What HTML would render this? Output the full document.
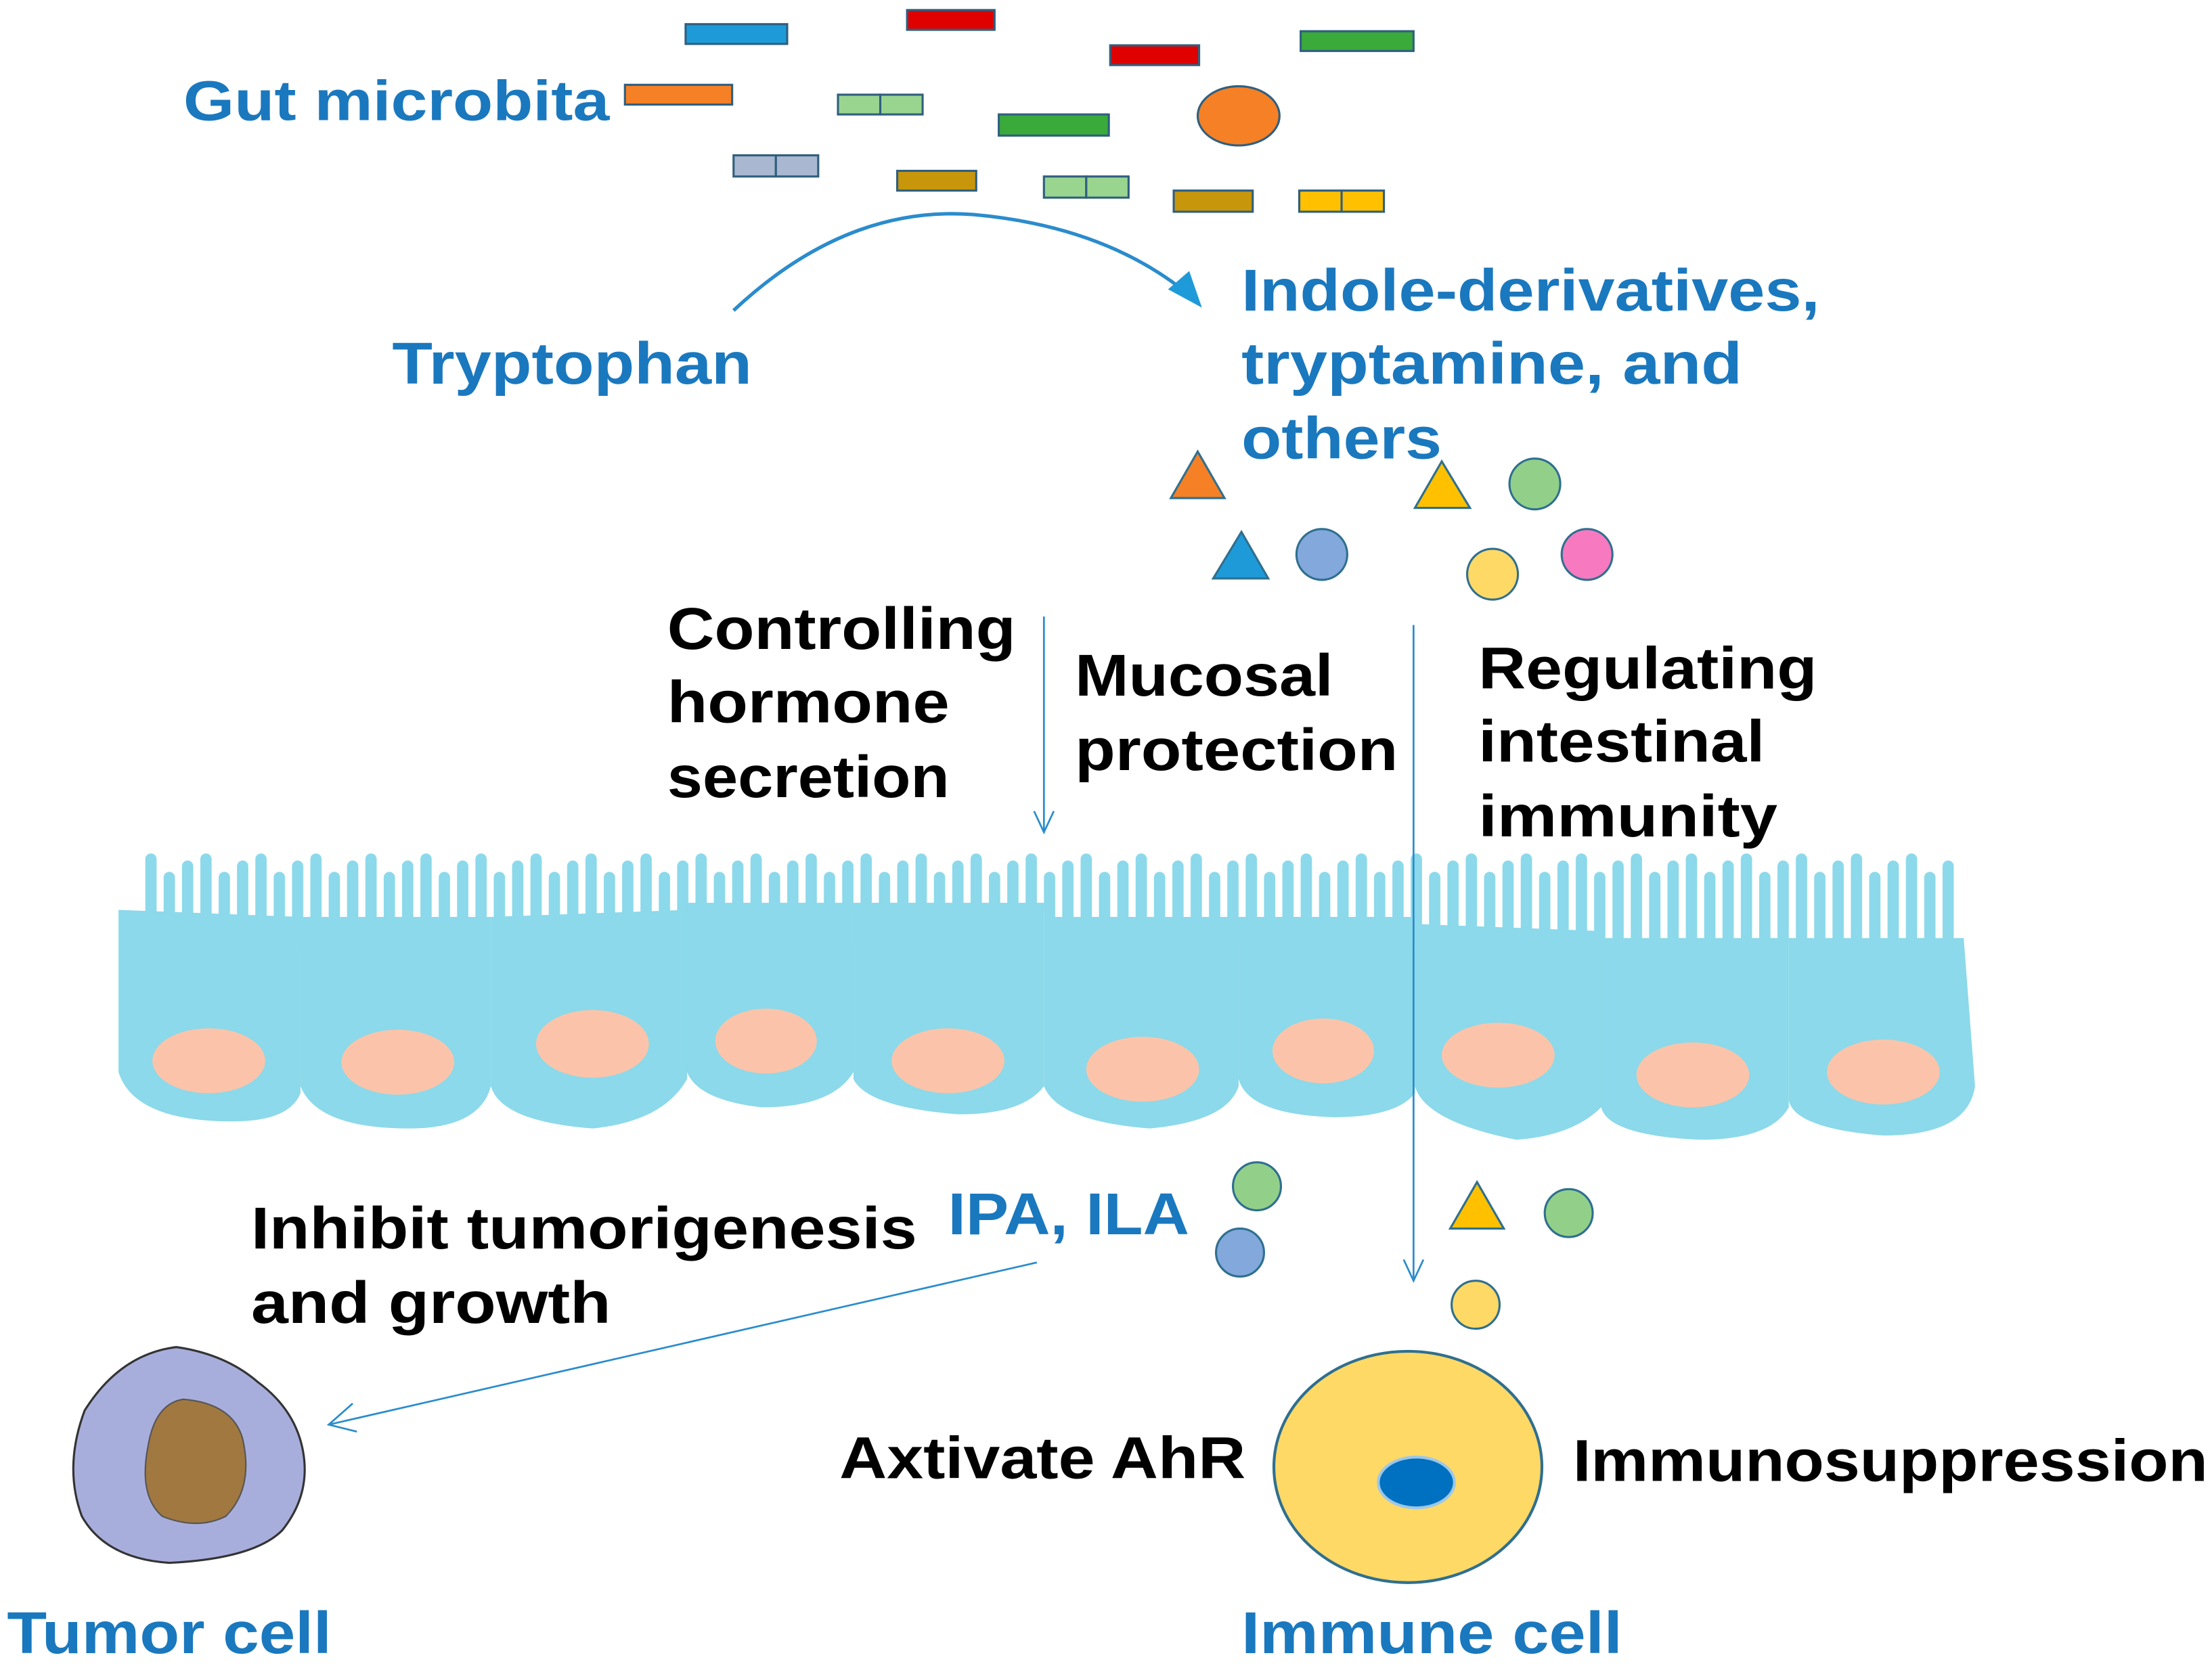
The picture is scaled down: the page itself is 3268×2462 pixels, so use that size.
<!DOCTYPE html>
<html><head><meta charset="utf-8"><style>html,body{margin:0;padding:0;background:#fff}svg{display:block}</style></head><body>
<svg width="3268" height="2462" viewBox="0 0 1568 1181" xmlns="http://www.w3.org/2000/svg" font-family="'Liberation Sans', sans-serif" font-weight="bold">
<defs>
<pattern id="mv" x="100" y="0" width="39" height="1181" patternUnits="userSpaceOnUse">
<rect x="3" y="605" width="8" height="80" rx="4" fill="#8BD9EA"/>
<rect x="16" y="618" width="8" height="70" rx="4" fill="#8BD9EA"/>
<rect x="29" y="610" width="8" height="75" rx="4" fill="#8BD9EA"/>
</pattern>
</defs>
<g stroke="#2f5f7f" stroke-width="1.5">
<rect x="486" y="17" width="72" height="14" fill="#1f9ad8"/>
<rect x="643" y="7" width="62" height="14" fill="#e00000"/>
<rect x="787" y="32" width="63" height="14" fill="#e00000"/>
<rect x="922" y="22" width="80" height="14" fill="#3aaa3a"/>
<rect x="443" y="60" width="76" height="14" fill="#f58025"/>
<rect x="594" y="67" width="30" height="14" fill="#9ad590"/><rect x="624" y="67" width="30" height="14" fill="#9ad590"/>
<rect x="708" y="81" width="78" height="15" fill="#3aaa3a"/>
<ellipse cx="878" cy="82" rx="29" ry="21" fill="#f58025"/>
<rect x="520" y="110" width="30" height="15" fill="#a9b8d0"/><rect x="550" y="110" width="30" height="15" fill="#a9b8d0"/>
<rect x="636" y="121" width="56" height="14" fill="#c8960a"/>
<rect x="740" y="125" width="30" height="15" fill="#9ad590"/><rect x="770" y="125" width="30" height="15" fill="#9ad590"/>
<rect x="832" y="135" width="56" height="15" fill="#c8960a"/>
<rect x="921" y="135" width="30" height="15" fill="#ffc000"/><rect x="951" y="135" width="30" height="15" fill="#ffc000"/>
</g>
<path d="M520,220 Q600,145 690,152 Q780,160 838,205" fill="none" stroke="#2a8ccc" stroke-width="2.5"/>
<polygon points="852,218 828,205 843,192" fill="#1f9ad8"/>
<g fill="#1a78be">
<text x="130" y="85" font-size="40" textLength="302" lengthAdjust="spacingAndGlyphs">Gut microbita</text>
<text x="278" y="272" font-size="42" textLength="255" lengthAdjust="spacingAndGlyphs">Tryptophan</text>
<text x="880" y="220" font-size="42" textLength="410" lengthAdjust="spacingAndGlyphs">Indole-derivatives,</text>
<text x="880" y="272" font-size="42" textLength="355" lengthAdjust="spacingAndGlyphs">tryptamine, and</text>
<text x="880" y="325" font-size="42" textLength="142" lengthAdjust="spacingAndGlyphs">others</text>
<text x="672" y="875" font-size="42" textLength="171" lengthAdjust="spacingAndGlyphs">IPA, ILA</text>
<text x="5" y="1172" font-size="42" textLength="230" lengthAdjust="spacingAndGlyphs">Tumor cell</text>
<text x="880" y="1172" font-size="42" textLength="270" lengthAdjust="spacingAndGlyphs">Immune cell</text>
</g>
<g stroke="#2f6f8f" stroke-width="1.5">
<polygon points="849,320 868,353 830,353" fill="#f58025"/>
<polygon points="1022,327 1042,360 1003,360" fill="#ffc000"/>
<polygon points="880,377 899,410 860,410" fill="#1f9ad8"/>
<circle cx="1088" cy="343" r="18" fill="#92d08a"/>
<circle cx="937" cy="393" r="18" fill="#82a8dc"/>
<circle cx="1058" cy="407" r="18" fill="#ffd966"/>
<circle cx="1125" cy="393" r="18" fill="#f77ac0"/>
<circle cx="891" cy="841" r="17" fill="#92d08a"/>
<circle cx="879" cy="888" r="17" fill="#82a8dc"/>
<polygon points="1047,838 1066,871 1028,871" fill="#ffc000"/>
<circle cx="1112" cy="860" r="17" fill="#92d08a"/>
<circle cx="1046" cy="925" r="17" fill="#ffd966"/>
</g>
<g fill="#000">
<text x="473" y="460" font-size="42" textLength="247" lengthAdjust="spacingAndGlyphs">Controlling</text>
<text x="473" y="512" font-size="42" textLength="200" lengthAdjust="spacingAndGlyphs">hormone</text>
<text x="473" y="565" font-size="42" textLength="200" lengthAdjust="spacingAndGlyphs">secretion</text>
<text x="762" y="493" font-size="42" textLength="183" lengthAdjust="spacingAndGlyphs">Mucosal</text>
<text x="762" y="546" font-size="42" textLength="229" lengthAdjust="spacingAndGlyphs">protection</text>
<text x="1048" y="488" font-size="42" textLength="240" lengthAdjust="spacingAndGlyphs">Regulating</text>
<text x="1048" y="540" font-size="42" textLength="203" lengthAdjust="spacingAndGlyphs">intestinal</text>
<text x="1048" y="593" font-size="42" textLength="212" lengthAdjust="spacingAndGlyphs">immunity</text>
<text x="178" y="885" font-size="42" textLength="472" lengthAdjust="spacingAndGlyphs">Inhibit tumorigenesis</text>
<text x="178" y="938" font-size="42" textLength="255" lengthAdjust="spacingAndGlyphs">and growth</text>
<text x="595" y="1048" font-size="42" textLength="288" lengthAdjust="spacingAndGlyphs">Axtivate AhR</text>
<text x="1115" y="1050" font-size="42" textLength="450" lengthAdjust="spacingAndGlyphs">Immunosuppression</text>
</g>
<!-- epithelium -->
<rect x="100" y="600" width="1285" height="70" fill="url(#mv)"/>
<g fill="#8BD9EA">
<path d="M84,645 L213,650 L213,775 Q205,795 165,795 Q95,795 84,760 Z"/>
<path d="M213,650 L348,650 L348,770 Q340,800 290,800 Q225,800 213,770 Z"/>
<path d="M348,650 L487,645 L487,765 Q470,795 420,800 Q355,795 348,770 Z"/>
<path d="M487,640 L605,640 L605,760 Q590,785 540,785 Q495,780 487,760 Z"/>
<path d="M605,640 L740,640 L740,770 Q725,790 680,790 Q615,785 605,765 Z"/>
<path d="M740,650 L878,650 L878,770 Q870,795 815,800 Q750,795 740,770 Z"/>
<path d="M878,650 L1003,650 L1003,775 Q990,792 945,792 Q885,790 878,765 Z"/>
<path d="M1003,655 L1135,660 L1135,785 Q1115,805 1075,808 Q1010,795 1003,770 Z"/>
<path d="M1135,665 L1268,665 L1268,785 Q1255,808 1205,808 Q1140,805 1135,785 Z"/>
<path d="M1268,665 L1392,665 L1400,770 Q1395,805 1335,805 Q1272,800 1268,780 Z"/>
</g>
<g fill="#FBC4AA">
<ellipse cx="148" cy="752" rx="40" ry="23"/><ellipse cx="282" cy="753" rx="40" ry="23"/>
<ellipse cx="420" cy="740" rx="40" ry="24"/><ellipse cx="543" cy="738" rx="36" ry="23"/>
<ellipse cx="672" cy="752" rx="40" ry="23"/><ellipse cx="810" cy="758" rx="40" ry="23"/>
<ellipse cx="938" cy="745" rx="36" ry="23"/><ellipse cx="1062" cy="748" rx="40" ry="23"/>
<ellipse cx="1200" cy="762" rx="40" ry="23"/><ellipse cx="1335" cy="760" rx="40" ry="23"/>
</g>
<!-- arrows -->
<g stroke="#2a8ccc" stroke-width="1.3" fill="none">
<line x1="740" y1="437" x2="740" y2="590"/><polyline points="733,575 740,590 747,575"/>
<line x1="1002" y1="443" x2="1002" y2="908"/><polyline points="995,893 1002,908 1009,893"/>
<line x1="735" y1="895" x2="233" y2="1010"/><polyline points="250,995 233,1010 253,1015"/>
</g>
<!-- tumor cell -->
<path d="M125,955 Q160,960 183,980 Q210,1000 215,1030 Q220,1060 200,1085 Q180,1105 120,1108 Q75,1105 58,1075 Q45,1040 60,1000 Q85,960 125,955 Z" fill="#A8AEDC" stroke="#333" stroke-width="1.5"/>
<path d="M130,992 Q165,995 172,1020 Q180,1055 160,1075 Q140,1085 115,1075 Q98,1060 105,1025 Q110,995 130,992 Z" fill="#A07840" stroke="#555" stroke-width="1"/>
<!-- immune cell -->
<ellipse cx="998" cy="1040" rx="95" ry="82" fill="#FFD966" stroke="#2f6f8f" stroke-width="2"/>
<ellipse cx="1004" cy="1051" rx="27" ry="18" fill="#0070C0" stroke="#9cc8e8" stroke-width="2"/>
</svg>
</body></html>
